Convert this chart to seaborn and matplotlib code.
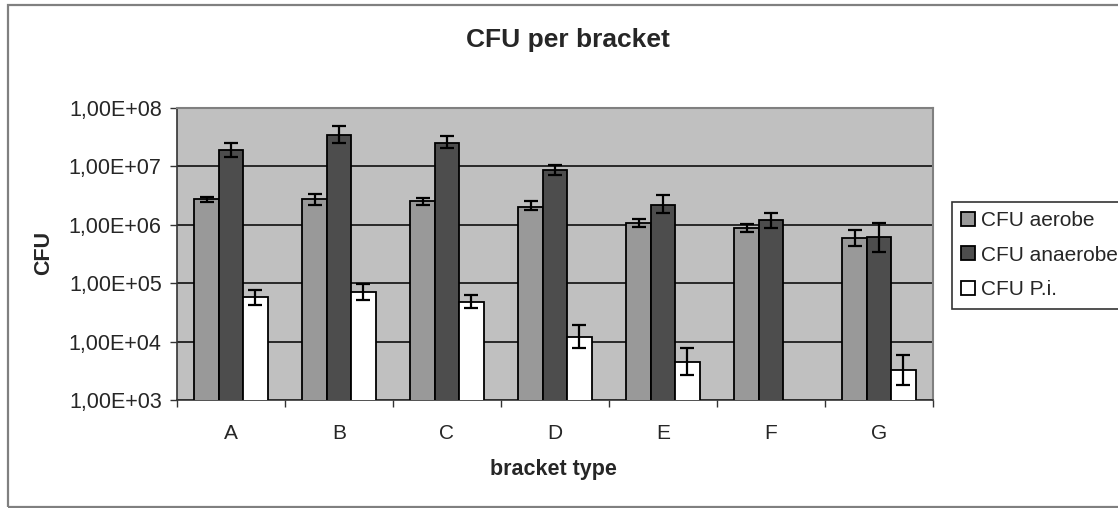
import numpy as np
import pandas as pd
import matplotlib
matplotlib.use('Agg')
import matplotlib.pyplot as plt
import matplotlib.ticker as mticker
from matplotlib.patches import Rectangle
import seaborn as sns

# data
brackets = ['A', 'B', 'C', 'D', 'E', 'F', 'G']
series = ['CFU aerobe', 'CFU anaerobe', 'CFU P.i.']

aerobe = [2.74e6, 2.74e6, 2.56e6, 2.04e6, 1.06e6, 8.9e5, 5.87e5]
aerobe_lo = [2.5e5, 5.6e5, 3.8e5, 2.5e5, 1.3e5, 1.45e5, 1.5e5]
aerobe_hi = [2.9e5, 5.9e5, 2.9e5, 5.2e5, 1.8e5, 1.3e5, 2.3e5]

anaerobe = [1.91e7, 3.49e7, 2.49e7, 8.67e6, 2.18e6, 1.21e6, 6.25e5]
anaerobe_lo = [4.4e6, 1.0e7, 4.5e6, 1.5e6, 6.1e5, 3.4e5, 2.87e5]
anaerobe_hi = [5.8e6, 1.43e7, 8.3e6, 1.9e6, 1.06e6, 4.0e5, 4.35e5]

pi = [5.74e4, 7.15e4, 4.82e4, 1.21e4, 4.53e3, np.nan, 3.27e3]
pi_lo = [1.5e4, 2.0e4, 1.1e4, 4.4e3, 1.85e3, np.nan, 1.46e3]
pi_hi = [1.9e4, 2.4e4, 1.46e4, 7.1e3, 3.1e3, np.nan, 2.6e3]

colors = ['#999999', '#4d4d4d', '#ffffff']

df = pd.DataFrame({
    'bracket': brackets * 3,
    'series': np.repeat(series, len(brackets)),
    'cfu': aerobe + anaerobe + pi,
})
errs = [(aerobe_lo, aerobe_hi), (anaerobe_lo, anaerobe_hi), (pi_lo, pi_hi)]

sns.set_style('ticks')
plt.rcParams['font.family'] = ['Liberation Sans', 'DejaVu Sans']

W, H = 1118, 508
fig = plt.figure(figsize=(W / 100, H / 100), dpi=100)
ax = fig.add_axes([177 / W, (H - 400) / H, 756 / W, 292 / H])
ax.set_facecolor('#c0c0c0')
ax.set_yscale('log')

sns.barplot(data=df, x='bracket', y='cfu', hue='series', order=brackets,
            hue_order=series, palette=colors, width=0.68, edgecolor='black',
            linewidth=1.3, errorbar=None, ax=ax, zorder=3)

# error bars on top of each bar (missing bars are skipped by seaborn)
for cont, (lo, hi) in zip(ax.containers, errs):
    for p in cont.patches:
        xc = p.get_x() + p.get_width() / 2
        i = int(round(xc))
        if np.isnan(lo[i]):
            continue
        ax.errorbar([xc], [p.get_height()], yerr=[[lo[i]], [hi[i]]],
                    fmt='none', ecolor='black', elinewidth=1.6, capsize=4.7,
                    capthick=1.6, zorder=4)

ax.set_ylim(1e3, 1e8)
ax.set_xlim(-0.5, len(brackets) - 0.5)
ax.yaxis.set_major_locator(mticker.LogLocator(base=10, numticks=10))
ax.yaxis.set_minor_locator(mticker.NullLocator())
ax.yaxis.set_major_formatter(
    mticker.FuncFormatter(lambda v, p: f'{v:.2E}'.replace('.', ',')))
ax.yaxis.grid(True, color='black', linewidth=1.1, zorder=1)
ax.set_axisbelow(True)

ax.set_xticks(range(len(brackets)))
ax.set_xticklabels(brackets)
ax.set_xticks(np.arange(-0.5, len(brackets)), minor=True)
ax.tick_params(axis='x', which='major', length=0, pad=17, labelsize=15)
ax.tick_params(axis='x', which='minor', length=5, width=1, color='#333333')
ax.tick_params(axis='y', which='major', length=5, width=1, pad=6,
               labelsize=15.5, color='#333333')

for s in ['left', 'bottom']:
    ax.spines[s].set_color('#333333')
    ax.spines[s].set_linewidth(1.2)
for s in ['top', 'right']:
    ax.spines[s].set_color('#808080')
    ax.spines[s].set_linewidth(1.5)

ax.set_xlabel('bracket type', fontsize=15.5, fontweight='bold')
ax.set_ylabel('CFU', fontsize=15.5, fontweight='bold')
ax.xaxis.set_label_coords((553.5 - 177) / 756, (400 - 459) / 292)
ax.yaxis.set_label_coords((54 - 177) / 756, (400 - 253) / 292)

fig.text(568 / W, 1 - 40 / H, 'CFU per bracket', fontsize=19,
         fontweight='bold', ha='center', va='center')

h, l = ax.get_legend_handles_labels()
leg = ax.legend(h, l, loc='upper left',
                bbox_to_anchor=(951.7 / W, 1 - 201.7 / H),
                bbox_transform=fig.transFigure, fontsize=15, frameon=True,
                fancybox=False, edgecolor='black', borderaxespad=0,
                handlelength=0.65, handleheight=0.65, handletextpad=0.3,
                labelspacing=0.75, borderpad=0.45)
leg.get_frame().set_linewidth(1.2)
for p in leg.get_patches():
    p.set_edgecolor('black')

# outer chart border
fig.patches.append(Rectangle((8 / W, 1 / H), 1.2, (H - 6) / H,
                             transform=fig.transFigure, fill=False,
                             edgecolor='#808080', linewidth=1.6))

fig.savefig('out.png', dpi=100)
